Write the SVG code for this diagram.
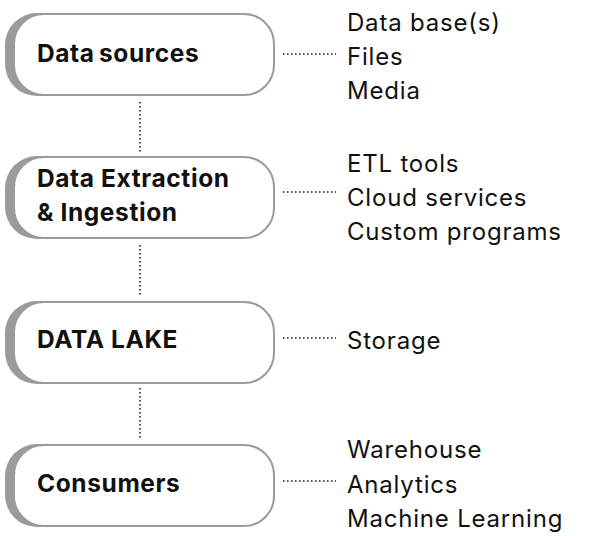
<svg xmlns="http://www.w3.org/2000/svg" width="590" height="536" viewBox="0 0 590 536">
<style>
.shadow{fill:#9b9b9b}
.pill{fill:#fff;stroke:#9b9b9b;stroke-width:2}
.lbl{font-family:Inter,"Liberation Sans",sans-serif;font-weight:700;font-size:24.5px;letter-spacing:0.6px;fill:#111}
.item{font-family:Inter,"Liberation Sans",sans-serif;font-size:24px;letter-spacing:0.8px;fill:#111}
.dot{stroke:#222;stroke-width:1.6;stroke-dasharray:1.6 2.4;fill:none}
</style>
<rect width="590" height="536" fill="#fff"/>
<g id="connectors">
<line class="dot" x1="140" y1="102" x2="140" y2="152"/>
<line class="dot" x1="140" y1="245" x2="140" y2="295"/>
<line class="dot" x1="140" y1="388" x2="140" y2="438"/>
<line class="dot" x1="283" y1="54" x2="336" y2="54"/>
<line class="dot" x1="283" y1="192" x2="336" y2="192"/>
<line class="dot" x1="283" y1="338" x2="336" y2="338"/>
<line class="dot" x1="283" y1="481" x2="336" y2="481"/>
</g>
<g id="node-sources">
<rect class="shadow" x="5" y="13" width="250" height="83" rx="32"/>
<rect class="pill" x="14" y="14" width="260" height="81" rx="30"/>
<text class="lbl" x="37" y="62" word-spacing="-2">Data sources</text>
<text class="item" x="347" y="31">Data base(s)</text><text class="item" x="347" y="65">Files</text><text class="item" x="347" y="99">Media</text>
</g>
<g id="node-extraction">
<rect class="shadow" x="5" y="156" width="250" height="83" rx="32"/>
<rect class="pill" x="14" y="157" width="260" height="81" rx="30"/>
<text class="lbl" x="37" y="187">Data Extraction</text>
<text class="lbl" x="37" y="221">&amp; Ingestion</text>
<text class="item" x="347" y="172">ETL tools</text><text class="item" x="347" y="206">Cloud services</text><text class="item" x="347" y="240">Custom programs</text>
</g>
<g id="node-lake">
<rect class="shadow" x="5" y="301" width="250" height="83" rx="32"/>
<rect class="pill" x="14" y="302" width="260" height="81" rx="30"/>
<text class="lbl" x="37" y="348">DATA LAKE</text>
<text class="item" x="347" y="349">Storage</text>
</g>
<g id="node-consumers">
<rect class="shadow" x="5" y="444" width="250" height="83" rx="32"/>
<rect class="pill" x="14" y="445" width="260" height="81" rx="30"/>
<text class="lbl" x="37" y="492">Consumers</text>
<text class="item" x="347" y="458">Warehouse</text><text class="item" x="347" y="493">Analytics</text><text class="item" x="347" y="527">Machine Learning</text>
</g>
</svg>
